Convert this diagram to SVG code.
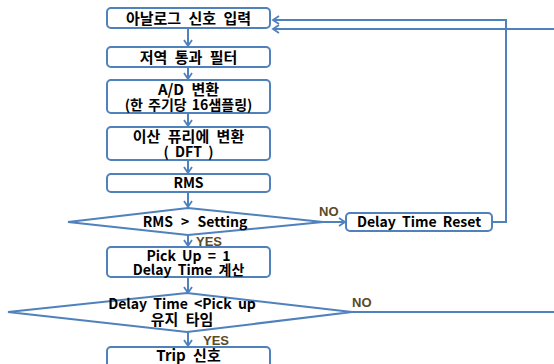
<svg xmlns="http://www.w3.org/2000/svg" width="554" height="364" viewBox="0 0 554 364">
<style>
.box{fill:#fff;stroke:#4f81bd;stroke-width:2}
.dia{fill:#fff;stroke:#4f81bd;stroke-width:2}
.t{font-family:"Malgun Gothic","Noto Sans CJK KR","Liberation Sans",sans-serif;font-weight:bold;font-size:14px;fill:#000;text-anchor:middle;word-spacing:3px}
.k{font-size:15px;word-spacing:4px}
.lbl{font-family:"Liberation Sans","Noto Sans CJK KR",sans-serif;font-weight:bold;font-size:13px;fill:#584a26}
.c{fill:none;stroke:#4f81bd;stroke-width:2}
</style>
<defs>
<marker id="ah" markerWidth="10" markerHeight="10" refX="8" refY="5" orient="auto" markerUnits="userSpaceOnUse">
<path d="M2,1 L8,5 L2,9" fill="none" stroke="#4f81bd" stroke-width="1.8"/>
</marker>
</defs>
<g id="connectors">
<line class="c" x1="188" y1="28" x2="188" y2="46" marker-end="url(#ah)"/>
<line class="c" x1="188" y1="67" x2="188" y2="79" marker-end="url(#ah)"/>
<line class="c" x1="188" y1="113" x2="188" y2="126" marker-end="url(#ah)"/>
<line class="c" x1="188" y1="160" x2="188" y2="173" marker-end="url(#ah)"/>
<line class="c" x1="188" y1="192" x2="188" y2="207" marker-end="url(#ah)"/>
<line class="c" x1="188" y1="235" x2="188" y2="246" marker-end="url(#ah)"/>
<line class="c" x1="188" y1="277" x2="188" y2="293" marker-end="url(#ah)"/>
<line class="c" x1="188" y1="332" x2="188" y2="346" marker-end="url(#ah)"/>
<line class="c" x1="323" y1="222" x2="345" y2="222" marker-end="url(#ah)"/>
<polyline class="c" points="492,222 506,222 506,20 273,20" marker-end="url(#ah)"/>
<line class="c" x1="554" y1="29" x2="273" y2="29" marker-end="url(#ah)"/>
<line class="c" x1="352" y1="312" x2="554" y2="312"/>
</g>
<g id="n1"><rect class="box" x="107" y="8" width="163" height="20" rx="4"/><text class="t k" x="188.5" y="23.5">아날로그 신호 입력</text></g>
<g id="n2"><rect class="box" x="107" y="47" width="163" height="20" rx="4"/><text class="t k" x="188.5" y="62.5">저역 통과 필터</text></g>
<g id="n3"><rect class="box" x="107" y="80" width="163" height="33" rx="4"/><text class="t k" x="188.5" y="95">A/D 변환</text><text class="t" x="188.5" y="110" style="word-spacing:2px">(한 주기당 16샘플링)</text></g>
<g id="n4"><rect class="box" x="107" y="127" width="163" height="33" rx="4"/><text class="t k" x="188.5" y="142">이산 퓨리에 변환</text><text class="t" x="188.5" y="157">( DFT )</text></g>
<g id="n5"><rect class="box" x="107" y="174" width="163" height="18" rx="4"/><text class="t" x="188.5" y="188">RMS</text></g>
<g id="d1"><polygon class="dia" points="68,222 188,208 323,222 188,235"/><text class="t" x="195" y="227" style="word-spacing:5px">RMS &gt; Setting</text></g>
<g id="n6"><rect class="box" x="346" y="213" width="146" height="18" rx="4"/><text class="t" x="419" y="227">Delay Time Reset</text></g>
<g id="n7"><rect class="box" x="107" y="247" width="163" height="30" rx="4"/><text class="t" x="188.5" y="261">Pick Up = 1</text><text class="t" x="188.5" y="275">Delay Time 계산</text></g>
<g id="d2"><polygon class="dia" points="8,312 187,293 352,312 187,332"/><text class="t" x="182" y="309">Delay Time &lt;Pick up</text><text class="t k" x="182" y="325">유지 타임</text></g>
<g id="n8"><rect class="box" x="107" y="347" width="163" height="22" rx="4"/><text class="t k" x="188.5" y="361">Trip 신호</text></g>
<text class="lbl" x="196" y="246">YES</text>
<text class="lbl" x="203" y="345">YES</text>
<text class="lbl" x="319" y="216">NO</text>
<text class="lbl" x="352" y="307">NO</text>
</svg>
